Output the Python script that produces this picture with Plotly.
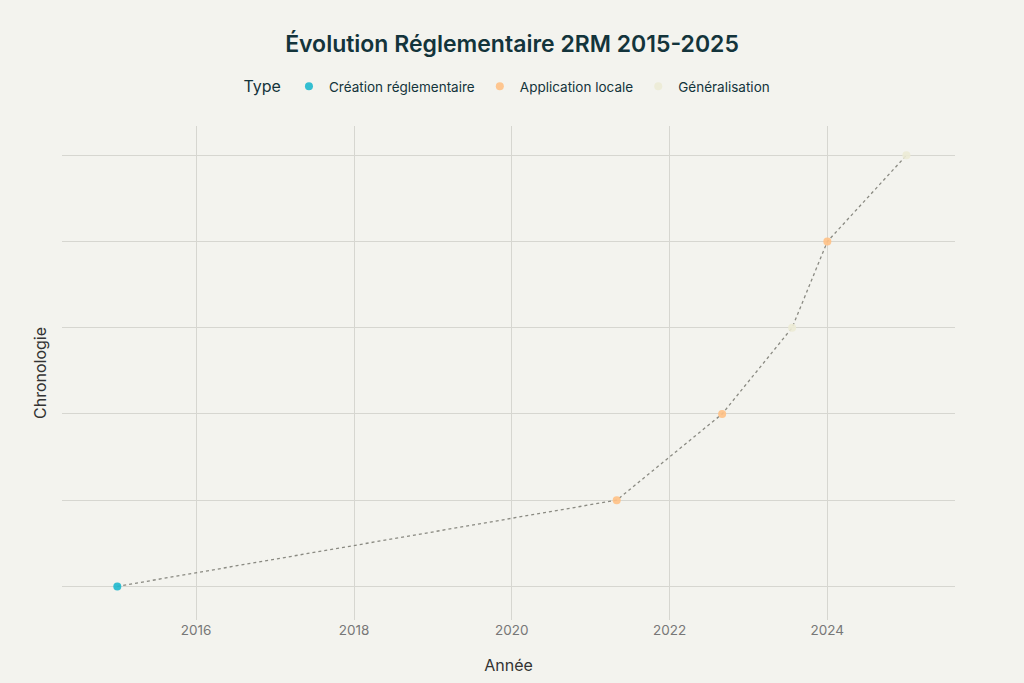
import plotly.graph_objects as go

dates = ["2015-01-01", "2021-05-01", "2022-09-01", "2023-07-22", "2024-01-01", "2025-01-01"]
levels = [0, 1, 2, 3, 4, 5]
types = ["Création réglementaire", "Application locale", "Application locale",
         "Généralisation", "Application locale", "Généralisation"]
type_order = ["Création réglementaire", "Application locale", "Généralisation"]
colors = {"Création réglementaire": "#1FB8CD", "Application locale": "#FFC185", "Généralisation": "#ECEBD5"}

fig = go.Figure()
fig.add_trace(go.Scatter(x=dates, y=levels, mode="lines",
                         line=dict(color="#8a8a82", width=1.3, dash="dot"),
                         showlegend=False, hoverinfo="skip"))
for t in type_order:
    xs = [d for d, tt in zip(dates, types) if tt == t]
    ys = [l for l, tt in zip(levels, types) if tt == t]
    fig.add_trace(go.Scatter(x=xs, y=ys, mode="markers", name=t,
                             marker=dict(color=colors[t], size=8, opacity=0.9)))

fig.update_layout(
    width=1024, height=683,
    paper_bgcolor="#F3F3EE", plot_bgcolor="#F3F3EE",
    font=dict(family="Inter, sans-serif", color="#13343B"),
    title=dict(text="Évolution Réglementaire 2RM 2015-2025", x=0.5, xanchor="center",
               y=0.935, yanchor="middle",
               font=dict(size=23, color="#13343B", family="Inter, sans-serif", weight=600)),
    legend=dict(orientation="h", x=0.5, xanchor="center", y=1.08, yanchor="middle",
                title=dict(text="Type", font=dict(size=16)), font=dict(size=13.5, color="#13343B")),
    margin=dict(l=62, r=69, t=126, b=63),
)
fig.update_xaxes(title=dict(text="Année", font=dict(size=16, color="#333"), standoff=23),
                 automargin=False,
                 range=["2014-04-20", "2025-08-14"], dtick="M24", tick0="2016-01-01",
                 tickformat="%Y", showgrid=True, gridcolor="#D6D6D0", zeroline=False,
                 showline=False, tickfont=dict(size=13.5, color="#777"), ticks="")
fig.update_yaxes(title=dict(text="Chronologie", font=dict(size=16, color="#333"), standoff=10),
                 automargin=False,
                 range=[-0.39, 5.34], dtick=1, showticklabels=False, showgrid=True,
                 gridcolor="#D6D6D0", zeroline=False, showline=False)

fig.write_html("out.html")
